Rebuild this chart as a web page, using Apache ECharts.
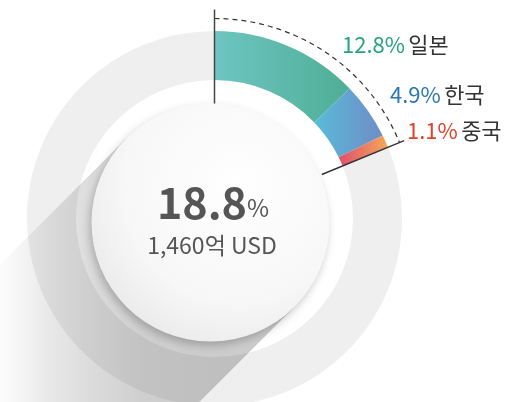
<!DOCTYPE html>
<html>
<head>
    <meta charset="utf-8">
    <title>ECharts</title>
    <script src="https://cdn.jsdelivr.net/npm/echarts@6/dist/echarts.min.js"></script>
    <style>
        html, body { margin: 0; padding: 0; background: #fff; }
    </style>
</head>
<body>
<div id="main" style="width: 505px;height:402px;"></div>
<script type="text/javascript">
    // 데이터
    var categories = ['일본', '한국', '중국'];
    var shares = [12.8, 4.9, 1.1];
    var totalAmount = '1,460억 USD';

    // 색상
    var valueColors = ['#26a47e', '#2a77b6', '#e4402c'];
    var sliceColors = [['#6ec5c2', '#4fae95'], ['#59bbd8', '#6f8cc8'], ['#e14f6b', '#f3a85a']];
    var restColor = '#efefef';
    // 라벨 위치 (좌측 기준)
    var labelPos = [[342, 45], [390, 95], [407, 131]];

    var cx = 214.5, cy = 218.5;
    var total = shares.reduce(function (a, b) { return a + b; }, 0);
    var startA = -Math.PI / 2;
    var endA = startA + total / 100 * Math.PI * 2;

    var myChart = echarts.init(document.getElementById('main'));

    var pieData = categories.map(function (name, i) {
        return {
            name: name,
            value: shares[i],
            itemStyle: {
                color: new echarts.graphic.LinearGradient(0, 0, 1, 0, [
                    {offset: 0, color: sliceColors[i][0]},
                    {offset: 1, color: sliceColors[i][1]}
                ])
            }
        };
    });
    pieData.push({
        name: '기타',
        value: 100 - total,
        itemStyle: {color: restColor},
        label: {show: false}
    });

    // 원판 그림자 (왼쪽 아래로 길게)
    var fx = 210.5, fy = 222.5, fr = 119;
    var s = Math.SQRT1_2;
    var len = 460;
    var t1 = [fx - fr * s, fy - fr * s];
    var t2 = [fx + fr * s, fy + fr * s];
    var shadowPts = [t1, t2, [t2[0] - len * s, t2[1] + len * s], [t1[0] - len * s, t1[1] + len * s]];

    var rich = {
        n: {color: '#333', fontSize: 22, fontFamily: 'Noto Sans CJK KR'}
    };
    valueColors.forEach(function (c, i) {
        rich['p' + i] = {color: c, fontSize: 22, fontFamily: 'Noto Sans CJK KR'};
    });

    myChart.setOption({
        animation: false,
        series: [{
            type: 'pie',
            silent: true,
            center: [cx, cy],
            radius: [138.5, 187.5],
            startAngle: 90,
            clockwise: true,
            avoidLabelOverlap: false,
            labelLine: {show: false},
            label: {
                show: true,
                formatter: function (p) {
                    return '{p' + p.dataIndex + '|' + p.value + '%} {n|' + p.name + '}';
                },
                rich: rich
            },
            labelLayout: function (p) {
                var pos = labelPos[p.dataIndex] || [0, 0];
                return {x: pos[0], y: pos[1], align: 'left', verticalAlign: 'middle'};
            },
            data: pieData
        }],
        graphic: [
            {
                type: 'polygon',
                z: 3,
                shape: {points: shadowPts},
                style: {
                    fill: new echarts.graphic.LinearGradient(210, 0, -10, 0, [
                        {offset: 0, color: 'rgba(0,0,0,0.2)'},
                        {offset: 0.3, color: 'rgba(0,0,0,0.19)'},
                        {offset: 0.5, color: 'rgba(0,0,0,0.15)'},
                        {offset: 0.73, color: 'rgba(0,0,0,0.09)'},
                        {offset: 0.86, color: 'rgba(0,0,0,0.04)'},
                        {offset: 1, color: 'rgba(0,0,0,0)'}
                    ], true)
                }
            },
            {
                type: 'circle',
                z: 4,
                shape: {cx: fx, cy: fy, r: fr},
                style: {
                    fill: new echarts.graphic.RadialGradient(0.62, 0.35, 0.75, [
                        {offset: 0, color: '#ffffff'},
                        {offset: 0.65, color: '#f7f7f7'},
                        {offset: 1, color: '#e8e8e8'}
                    ]),
                    shadowBlur: 8,
                    shadowColor: 'rgba(0,0,0,0.22)',
                    shadowOffsetX: -2,
                    shadowOffsetY: 4
                }
            },
            {
                type: 'arc',
                z: 6,
                shape: {cx: cx, cy: cy, r: 200, startAngle: startA, endAngle: endA, clockwise: true},
                style: {stroke: '#333', lineWidth: 1.2, lineDash: [5, 4], fill: null}
            },
            {
                type: 'line',
                z: 6,
                shape: {
                    x1: cx + Math.cos(startA) * 115, y1: cy + Math.sin(startA) * 115,
                    x2: cx + Math.cos(startA) * 209, y2: cy + Math.sin(startA) * 209
                },
                style: {stroke: '#444', lineWidth: 1.5}
            },
            {
                type: 'line',
                z: 6,
                shape: {
                    x1: cx + Math.cos(endA) * 116, y1: cy + Math.sin(endA) * 116,
                    x2: cx + Math.cos(endA) * 205, y2: cy + Math.sin(endA) * 205
                },
                style: {stroke: '#333', lineWidth: 1.5}
            },
            {
                type: 'text',
                z: 7,
                style: {
                    x: 213, y: 224,
                    text: '{a|' + total.toFixed(1) + '}{b|%}',
                    align: 'center',
                    verticalAlign: 'bottom',
                    rich: {
                        a: {fontSize: 43, fontWeight: 'bold', fill: '#555', fontFamily: 'Noto Sans CJK KR', verticalAlign: 'bottom'},
                        b: {fontSize: 24, fill: '#555', fontFamily: 'Noto Sans CJK KR', verticalAlign: 'bottom', padding: [0, 0, 4, 0]}
                    }
                }
            },
            {
                type: 'text',
                z: 7,
                style: {
                    x: 212, y: 245,
                    text: totalAmount,
                    align: 'center',
                    verticalAlign: 'middle',
                    fontSize: 23,
                    fill: '#555',
                    fontFamily: 'Noto Sans CJK KR'
                }
            }
        ]
    });
</script>
</body>
</html>
